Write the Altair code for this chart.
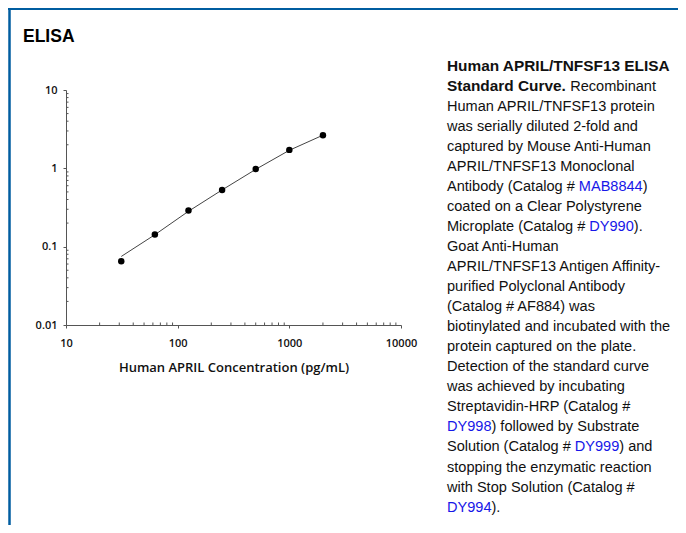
import altair as alt
import pandas as pd

# ---- data ----
conc = [31.25, 62.5, 125, 250, 500, 1000, 2000]          # pg/mL
od_points = [0.065, 0.143, 0.29, 0.53, 0.98, 1.72, 2.65]  # measured
od_fit = [0.075, 0.142, 0.283, 0.53, 0.97, 1.70, 2.65]    # fitted curve
y_ticks = [0.01, 0.1, 1, 10]
x_ticks = [10, 100, 1000, 10000]
x_minor = [m * d for d in (10, 100, 1000) for m in range(2, 10)]
y_minor = [m * d for d in (0.01, 0.1, 1) for m in range(2, 10)]

title_text = "ELISA"
x_title = "Human APRIL Concentration (pg/mL)"

# paragraph: each line is a list of (text, style) segments
para = [
    [("Human APRIL/TNFSF13 ELISA", "b")],
    [("Standard Curve. ", "b"), ("Recombinant", "n")],
    [("Human APRIL/TNFSF13 protein", "n")],
    [("was serially diluted 2-fold and", "n")],
    [("captured by Mouse Anti-Human", "n")],
    [("APRIL/TNFSF13 Monoclonal", "n")],
    [("Antibody (Catalog # ", "n"), ("MAB8844", "l"), (")", "n")],
    [("coated on a Clear Polystyrene", "n")],
    [("Microplate (Catalog # ", "n"), ("DY990", "l"), (").", "n")],
    [("Goat Anti-Human", "n")],
    [("APRIL/TNFSF13 Antigen Affinity-", "n")],
    [("purified Polyclonal Antibody", "n")],
    [("(Catalog # AF884) was", "n")],
    [("biotinylated and incubated with the", "n")],
    [("protein captured on the plate.", "n")],
    [("Detection of the standard curve", "n")],
    [("was achieved by incubating", "n")],
    [("Streptavidin-HRP (Catalog #", "n")],
    [("DY998", "l"), (") followed by Substrate", "n")],
    [("Solution (Catalog # ", "n"), ("DY999", "l"), (") and", "n")],
    [("stopping the enzymatic reaction", "n")],
    [("with Stop Solution (Catalog #", "n")],
    [("DY994", "l"), (").", "n")],
]

# ---- Arial (Liberation Sans) advance widths, per 1000 em ----
REG = {" ": 278, "!": 278, "#": 556, "(": 333, ")": 333, "-": 333, ".": 278,
       "/": 278, ":": 278}
for c in "0123456789":
    REG[c] = 556
REG.update(dict(zip("ABCDEFGHIJKLMNOPQRSTUVWXYZ",
                    [667, 667, 722, 722, 667, 611, 778, 722, 278, 500, 667, 556, 833,
                     722, 778, 667, 778, 722, 667, 611, 722, 667, 944, 667, 667, 611])))
REG.update(dict(zip("abcdefghijklmnopqrstuvwxyz",
                    [556, 556, 500, 556, 556, 278, 556, 556, 222, 222, 500, 222, 833,
                     556, 556, 556, 556, 333, 500, 278, 556, 500, 722, 500, 500, 500])))
BOLD = dict(REG)
BOLD.update({"t": 333, "n": 611, "d": 611, "r": 389, "u": 611, "v": 556, "m": 889,
             "L": 611, "b": 611, "o": 611, "p": 611, "h": 611})

FS = 14.55
FS_B = 15.4


def text_width(s, bold):
    table = BOLD if bold else REG
    size = FS_B if bold else FS
    return sum(table.get(ch, 556) for ch in s) * size / 1000.0


# plot area (pixels)
W, H = 335, 235
PAD_L, PAD_T = 58, 82
TOTAL_W, TOTAL_H = 670, 517

para_x0 = 381
para_y0 = -19.5
line_h = 20.05

rows = []
for i, line in enumerate(para):
    x = para_x0
    for txt, style in line:
        rows.append({"t": txt.strip(), "px": x, "py": para_y0 + i * line_h,
                     "style": style})
        x += text_width(txt, style == "b")
seg = pd.DataFrame(rows)

BLUE = "#005DA0"
LINK = "#1717E8"
TXT = "#111111"
FONT = "Liberation Sans, Arial, sans-serif"

df = pd.DataFrame({"conc": conc, "od": od_points, "fit": od_fit})

xscale = alt.Scale(type="log", domain=[10, 10000], nice=False)
yscale = alt.Scale(type="log", domain=[0.01, 10], nice=False)

axis_common = dict(
    labelFont="Open Sans", labelFontWeight=600, labelFontSize=11, labelColor="#111",
    domainColor="#555", tickColor="#555", tickSize=3, grid=False,
    titleFont="Open Sans", titleFontWeight=600, titleFontSize=13, titleColor="#111",
    format="~g",
)
x_axis = alt.Axis(values=x_ticks, title=x_title, labelPadding=9, titlePadding=13,
                  labelFlush=False, **axis_common)
y_axis = alt.Axis(values=y_ticks, title=None, labelPadding=6, **axis_common)

line = alt.Chart(df).mark_line(color="#444", strokeWidth=1).encode(
    x=alt.X("conc:Q", scale=xscale, axis=x_axis),
    y=alt.Y("fit:Q", scale=yscale, axis=y_axis),
)
pts = alt.Chart(df).mark_circle(color="black", size=42, opacity=1).encode(
    x=alt.X("conc:Q", scale=xscale, axis=x_axis),
    y=alt.Y("od:Q", scale=yscale, axis=y_axis),
)
xm = alt.Chart(pd.DataFrame({"conc": x_minor})).mark_rule(color="#555", strokeWidth=1).encode(
    x=alt.X("conc:Q", scale=xscale, axis=x_axis),
    y=alt.value(H),
    y2=alt.value(H - 2.5),
)
ym = alt.Chart(pd.DataFrame({"od": y_minor})).mark_rule(color="#555", strokeWidth=1).encode(
    y=alt.Y("od:Q", scale=yscale, axis=y_axis),
    x=alt.value(0),
    x2=alt.value(2.5),
)
plot = alt.layer(xm, ym, line, pts)

txt_normal = alt.Chart(seg[seg["style"] != "b"]).mark_text(
    font=FONT, fontSize=FS, align="left", baseline="alphabetic"
).encode(
    x=alt.X("px:Q", scale=None, axis=None),
    y=alt.Y("py:Q", scale=None, axis=None),
    text="t:N",
    color=alt.Color("style:N", scale=alt.Scale(domain=["n", "l"], range=[TXT, LINK]),
                    legend=None),
)
txt_bold = alt.Chart(seg[seg["style"] == "b"]).mark_text(
    font=FONT, fontSize=FS_B, fontWeight="bold", align="left",
    baseline="alphabetic", color=TXT
).encode(
    x=alt.X("px:Q", scale=None, axis=None),
    y=alt.Y("py:Q", scale=None, axis=None),
    text="t:N",
)
head = alt.Chart(pd.DataFrame({"t": [title_text]})).mark_text(
    font=FONT, fontSize=17.5, fontWeight="bold", align="left",
    baseline="alphabetic", color="#000"
).encode(x=alt.value(-43), y=alt.value(-48), text="t:N")

frame_top = alt.Chart(pd.DataFrame({"a": [0]})).mark_rule(color=BLUE, strokeWidth=2).encode(
    x=alt.value(-PAD_L), x2=alt.value(TOTAL_W - PAD_L), y=alt.value(-81))
frame_left = alt.Chart(pd.DataFrame({"a": [0]})).mark_rule(color=BLUE, strokeWidth=2.5).encode(
    x=alt.value(-56.5), y=alt.value(-PAD_T), y2=alt.value(TOTAL_H - PAD_T))

text_layer = alt.layer(txt_normal, txt_bold, head, frame_top, frame_left)

chart = alt.layer(plot, text_layer).resolve_scale(
    x="independent", y="independent", color="independent"
).properties(
    width=W, height=H,
    autosize=alt.AutoSizeParams(type="none"),
    padding={"left": PAD_L, "top": PAD_T, "right": TOTAL_W - PAD_L - W,
             "bottom": TOTAL_H - PAD_T - H},
    background="white",
).configure_view(stroke=None)

chart.save("out.html", embed_options={"renderer": "svg", "actions": False})
